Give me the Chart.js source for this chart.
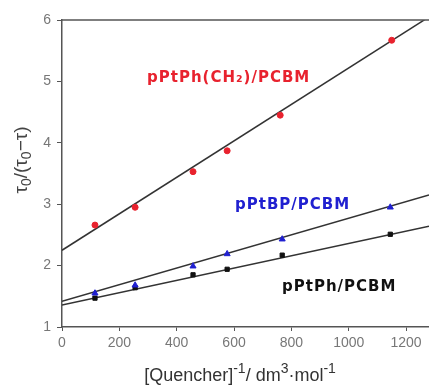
<!DOCTYPE html>
<html><head><meta charset="utf-8">
<script src="https://cdn.jsdelivr.net/npm/chart.js@4"></script>
<style>html,body{margin:0;padding:0;background:#fff}#wrap{width:429px;height:388px}</style>
</head><body><div id="wrap"><canvas id="c" width="429" height="388"></canvas></div>
<script>
// Data
const xRed = [115, 255, 457, 576, 761, 1150];
const yRed = [2.66, 2.95, 3.53, 3.87, 4.45, 5.67];
const xBlue = [115, 255, 457, 576, 768, 1145];
const yBlue = [1.55, 1.68, 1.99, 2.19, 2.43, 2.95];
const xBlack = [115, 255, 457, 576, 768, 1145];
const yBlack = [1.47, 1.64, 1.85, 1.94, 2.17, 2.51];
// linear fit lines (end points)
const fitX = [0, 1280];
const fitRed = [2.25, 6.05];
const fitBlue = [1.42, 3.15];
const fitBlack = [1.36, 2.64];
const xTicks = [0, 200, 400, 600, 800, 1000, 1200];
const yTicks = [1, 2, 3, 4, 5, 6];
const seriesNames = ['pPtPh(CH\u2082)/PCBM', 'pPtBP/PCBM', 'pPtPh/PCBM'];

const pts = (xs, ys) => xs.map((x, i) => ({x, y: ys[i]}));
const RED = '#e8222e', BLUE = '#2020d0', BLACK = '#111';
const LINE = '#333';
const FONT = '"Liberation Sans", Arial, sans-serif';

// rich text: segments of [text, fontSize, baselineShift]
function drawRich(ctx, segs, cx, baseY) {
  let w = 0;
  segs.forEach(s => { ctx.font = s[1] + 'px ' + FONT; w += ctx.measureText(s[0]).width; });
  let x = cx - w / 2;
  ctx.textAlign = 'left';
  ctx.textBaseline = 'alphabetic';
  segs.forEach(s => { ctx.font = s[1] + 'px ' + FONT; ctx.fillText(s[0], x, baseY + s[2]); x += ctx.measureText(s[0]).width; });
}

const labelsPlugin = {
  id: 'labelsPlugin',
  afterDatasetsDraw(chart) {
    const {ctx, chartArea} = chart;
    ctx.save();
    ctx.strokeStyle = '#555';
    ctx.lineWidth = 1.5;
    ctx.beginPath();
    ctx.moveTo(chartArea.left, chartArea.top);
    ctx.lineTo(chart.width, chartArea.top);
    ctx.stroke();
    // series labels
    ctx.font = 'bold 15px "DejaVu Sans", sans-serif';
    ctx.letterSpacing = '1px';
    ctx.textBaseline = 'middle';
    ctx.textAlign = 'left';
    const items = [[seriesNames[0], RED, 147, 78], [seriesNames[1], BLUE, 235, 205], [seriesNames[2], BLACK, 282, 287]];
    items.forEach(([t, c, x, y]) => { ctx.fillStyle = c; ctx.fillText(t, x, y); });
    ctx.letterSpacing = '0px';
    // axis titles
    ctx.fillStyle = '#333';
    drawRich(ctx, [['[Quencher]', 18, 0], ['-1', 14, -8], ['/ dm', 18, 0], ['3', 14, -8], ['\u00B7mol', 18, 0], ['-1', 14, -8]], 240, 381);
    ctx.translate(27, 160);
    ctx.rotate(-Math.PI / 2);
    ctx.fillStyle = '#444';
    drawRich(ctx, [['\u03C4', 19, 0], ['0', 14, 4], ['/(\u03C4', 19, 0], ['0', 14, 4], ['\u2212\u03C4)', 19, 0]], 0, 0);
    ctx.restore();
  }
};

new Chart(document.getElementById('c'), {
  type: 'scatter',
  data: {
    datasets: [
      {data: pts(fitX, fitRed), showLine: true, borderColor: LINE, borderWidth: 1.5, pointRadius: 0, order: 2},
      {data: pts(fitX, fitBlue), showLine: true, borderColor: LINE, borderWidth: 1.5, pointRadius: 0, order: 2},
      {data: pts(fitX, fitBlack), showLine: true, borderColor: LINE, borderWidth: 1.5, pointRadius: 0, order: 2},
      {label: seriesNames[0], data: pts(xRed, yRed), pointStyle: 'circle', pointRadius: 3, backgroundColor: RED, borderColor: RED, order: 1},
      {label: seriesNames[1], data: pts(xBlue, yBlue), pointStyle: 'triangle', pointRadius: 3.5, backgroundColor: BLUE, borderColor: BLUE, order: 1},
      {label: seriesNames[2], data: pts(xBlack, yBlack), pointStyle: 'rect', pointRadius: 3, backgroundColor: BLACK, borderColor: BLACK, order: 1}
    ]
  },
  options: {
    responsive: false,
    animation: false,
    layout: {autoPadding: false, padding: {top: 20, right: 0, left: 0, bottom: 0}},
    plugins: {legend: {display: false}, tooltip: {enabled: false}},
    scales: {
      x: {
        type: 'linear', min: 0, max: 1280,
        afterBuildTicks: s => { s.ticks = xTicks.map(v => ({value: v})); },
        afterFit: s => { s.height = 61; },
        border: {color: '#555', width: 1.5},
        grid: {drawOnChartArea: false, drawTicks: true, tickLength: 4, color: '#555'},
        ticks: {color: '#777', font: {size: 14, family: FONT}, padding: 4, maxRotation: 0, callback: v => String(v)},
        title: {display: false}
      },
      y: {
        type: 'linear', min: 1, max: 6,
        afterBuildTicks: s => { s.ticks = yTicks.map(v => ({value: v})); },
        afterFit: s => { s.width = 62; },
        border: {color: '#555', width: 1.5},
        grid: {drawOnChartArea: false, drawTicks: true, tickLength: 5, color: '#555'},
        ticks: {color: '#777', font: {size: 14, family: FONT}, padding: 6, callback: v => String(v)},
        title: {display: false}
      }
    }
  },
  plugins: [labelsPlugin]
});
</script>
</body></html>
